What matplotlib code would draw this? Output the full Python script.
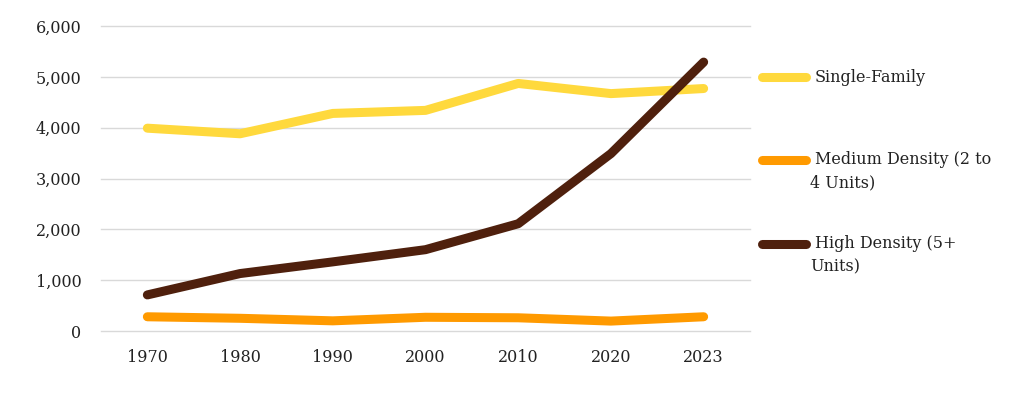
import matplotlib.pyplot as plt
from matplotlib.lines import Line2D

years = ['1970', '1980', '1990', '2000', '2010', '2020', '2023']
single_family = [3990, 3880, 4280, 4340, 4870, 4670, 4770]
medium_density = [280, 250, 200, 270, 260, 195, 280]
high_density = [710, 1130, 1360, 1600, 2110, 3490, 5290]

names = ['Single-Family', 'Medium Density (2 to\n4 Units)', 'High Density (5+\nUnits)']
colors = ['#FFD93D', '#FF9A00', '#4F200D']
series = [single_family, medium_density, high_density]

plt.rcParams['font.family'] = 'DejaVu Serif'
fig = plt.figure(figsize=(10.24, 3.94), dpi=100)
ax = fig.add_axes([101/1024, 63/394, 649/1024, 305/394])

x = list(range(len(years)))
for vals, col in zip(series, colors):
    ax.plot(x, vals, color=col, lw=6.5, solid_capstyle='round', solid_joinstyle='round', zorder=3)

ax.set_xlim(-0.5, 6.5)
ax.set_ylim(0, 6000)
ax.set_yticks(range(0, 6001, 1000))
ax.set_yticklabels(['{:,}'.format(v) for v in range(0, 6001, 1000)])
ax.set_xticks(x)
ax.set_xticklabels(years)
ax.grid(axis='y', color='#d9d9d9', lw=1)
for gl in ax.get_ygridlines():
    gl.set_clip_on(False)
ax.set_axisbelow(True)
for s in ax.spines.values():
    s.set_visible(False)
ax.tick_params(length=0, labelsize=11.5, colors='#222222')
ax.tick_params(axis='y', pad=14)
ax.tick_params(axis='x', pad=13)

# legend drawn by hand so the handle lines up with the first text line
leg_y = [77, 160, 244]
for name, col, yy in zip(names, colors, leg_y):
    yf = 1 - yy / 394
    fig.add_artist(Line2D([762/1024, 806/1024], [yf, yf], color=col, lw=6.5,
                          solid_capstyle='round', transform=fig.transFigure))
    lines = name.split('\n')
    fig.text(815/1024, yf, lines[0], fontsize=11.5, va='center', color='#222222')
    if len(lines) > 1:
        fig.text(810/1024, yf - 23/394, lines[1], fontsize=11.5, va='center', color='#222222')

fig.savefig('out.png', dpi=100)
